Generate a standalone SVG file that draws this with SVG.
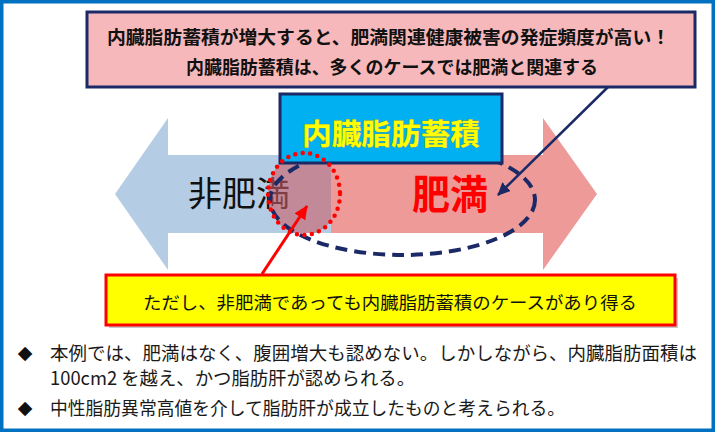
<svg xmlns="http://www.w3.org/2000/svg" width="715" height="432" viewBox="0 0 715 432">
<defs>
<style>
.jp{font-family:"Noto Sans CJK JP","Noto Sans CJK SC",sans-serif;}
.b{font-weight:bold;}
.body{font-size:18.5px;fill:#1a1a1a;}
.navy{stroke:#1B2A66;}
</style>
<marker id="ahNavy" markerWidth="14" markerHeight="12" refX="12" refY="6" orient="auto" markerUnits="userSpaceOnUse"><path d="M0,0 L13,6 L0,12 Z" fill="#1B2A66"/></marker>
<marker id="ahRed" markerWidth="15" markerHeight="13" refX="13" refY="6.5" orient="auto" markerUnits="userSpaceOnUse"><path d="M0,0 L14,6.5 L0,13 Z" fill="#FF0000"/></marker>
<clipPath id="circClip"><ellipse cx="304" cy="194" rx="36" ry="41"/></clipPath>
</defs>
<rect x="0" y="0" width="715" height="432" fill="#FFFFFF"/>
<rect x="1.75" y="1.75" width="711.5" height="428.5" fill="none" stroke="#0070C0" stroke-width="3.5"/>

<g id="arrow-nonobese">
<polygon points="115,194 168,118 168,155 331,155 331,233 168,233 168,270" fill="#B4CCE4"/>
<text class="jp" x="188" y="205.5" font-size="34" textLength="102" lengthAdjust="spacingAndGlyphs" fill="#111">非肥満</text>
</g>
<g id="arrow-obese">
<polygon points="331,155 543,155 543,118 597,194 543,270 543,233 331,233" fill="#EE9A98"/>
<text class="jp b" x="412" y="209" font-size="40" textLength="76" lengthAdjust="spacingAndGlyphs" fill="#FF0000">肥満</text>
</g>

<g id="overlap-fill">
<rect x="266" y="155" width="65" height="78" fill="#CC5E68" fill-opacity="0.6" clip-path="url(#circClip)"/>
</g>

<g id="obese-region">
<ellipse cx="402.5" cy="200" rx="132.5" ry="55" fill="none" stroke="#1B2A66" stroke-width="4" stroke-dasharray="12 7"/>
</g>

<g id="visceral-fat">
<rect x="280" y="94" width="222" height="69" fill="#00B0F0" stroke="#1B2A66" stroke-width="3"/>
<text class="jp b" x="302" y="145" font-size="29" textLength="178" lengthAdjust="spacingAndGlyphs" fill="#FFFF00" stroke="#9A9A20" stroke-width="0.6" paint-order="stroke">内臓脂肪蓄積</text>
</g>

<g id="overlap-circle">
<ellipse cx="304" cy="194" rx="36" ry="41" fill="none" stroke="#FF0000" stroke-width="4.5" stroke-dasharray="0 7.5" stroke-linecap="round"/>
</g>

<g id="note-top">
<rect x="87" y="12" width="608" height="75" fill="#F6B8BA" stroke="#1B2A66" stroke-width="3"/>
<text class="jp b" x="107" y="43.5" font-size="18" textLength="563" lengthAdjust="spacingAndGlyphs" fill="#111">内臓脂肪蓄積が増大すると、肥満関連健康被害の発症頻度が高い！</text>
<text class="jp b" x="186" y="73.5" font-size="18" textLength="412" lengthAdjust="spacingAndGlyphs" fill="#111">内臓脂肪蓄積は、多くのケースでは肥満と関連する</text>
</g>

<g id="note-bottom">
<rect x="109" y="278" width="569" height="50" fill="#9a9a9a" fill-opacity="0.55"/>
<rect x="106" y="275" width="569" height="50" fill="#FFFF00" stroke="#FF0000" stroke-width="3"/>
<text class="jp" x="143" y="309" font-size="17.5" textLength="494" lengthAdjust="spacingAndGlyphs" fill="#111">ただし、非肥満であっても内臓脂肪蓄積のケースがあり得る</text>
</g>

<g id="connectors">
<line x1="608" y1="87" x2="498" y2="195" stroke="#1B2A66" stroke-width="2.5" marker-end="url(#ahNavy)"/>
<line x1="262" y1="274" x2="307" y2="206" stroke="#FF0000" stroke-width="3" marker-end="url(#ahRed)"/>
</g>

<g id="bullets">
<text x="25" y="359" font-family="DejaVu Sans, sans-serif" font-size="19" text-anchor="middle" fill="#111">◆</text>
<text class="jp body" x="50" y="360" textLength="647" lengthAdjust="spacingAndGlyphs">本例では、肥満はなく、腹囲増大も認めない。しかしながら、内臓脂肪面積は</text>
<text class="jp body" x="50" y="385" textLength="365" lengthAdjust="spacingAndGlyphs">100cm2 を越え、かつ脂肪肝が認められる。</text>
<text x="25" y="414" font-family="DejaVu Sans, sans-serif" font-size="19" text-anchor="middle" fill="#111">◆</text>
<text class="jp body" x="50" y="414.5" textLength="515" lengthAdjust="spacingAndGlyphs">中性脂肪異常高値を介して脂肪肝が成立したものと考えられる。</text>
</g>
</svg>
